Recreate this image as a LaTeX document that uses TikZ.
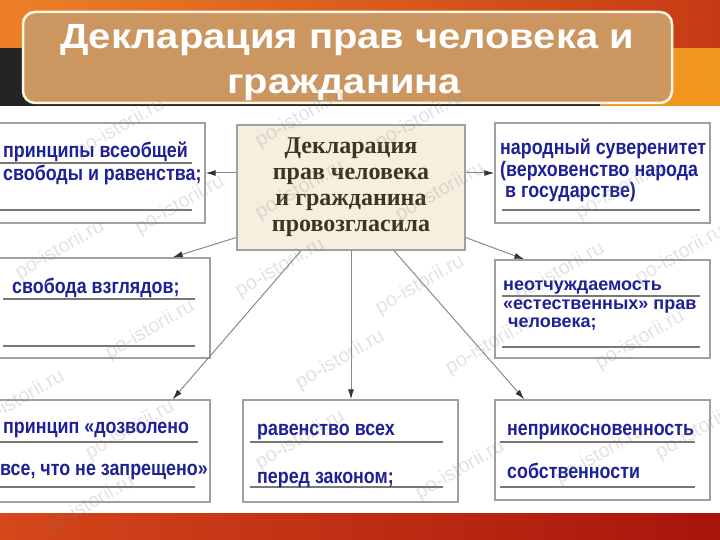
\documentclass[tikz,border=0pt]{standalone}
\usepackage{fontspec}
\setmainfont{Liberation Sans}
\newfontfamily\titlefont[FakeStretch=1.14]{Liberation Sans}
\newfontfamily\boxfont[FakeStretch=0.85]{Liberation Sans}
\newfontfamily\cserif{Liberation Serif}
\usetikzlibrary{arrows.meta,calc}
\definecolor{topL}{RGB}{236,128,40}
\definecolor{topR}{RGB}{198,58,20}
\definecolor{darkband}{RGB}{36,36,36}
\definecolor{orangeR}{RGB}{240,150,32}
\definecolor{botL}{RGB}{212,72,26}
\definecolor{botR}{RGB}{168,20,12}
\definecolor{titlefill}{RGB}{204,150,96}
\definecolor{titleedge}{RGB}{255,246,228}
\definecolor{boxgray}{RGB}{160,160,160}
\definecolor{ulgray}{RGB}{120,120,120}
\definecolor{txtblue}{RGB}{30,32,150}
\definecolor{cfill}{RGB}{246,238,222}
\definecolor{ctext}{RGB}{62,52,32}
\definecolor{arrgray}{RGB}{138,138,138}
\begin{document}
\begin{tikzpicture}[x=1pt,y=-1pt,
  wbox/.style={draw=boxgray,line width=1.4pt,fill=white,inner sep=0pt},
  cbox/.style={draw=boxgray,line width=1.4pt,fill=cfill,inner sep=0pt,
    font=\cserif\bfseries\fontsize{24}{26}\selectfont,text=ctext,align=center},
  btxt/.style={anchor=base west,inner sep=0pt,text=txtblue,
    font=\boxfont\bfseries\fontsize{21}{24}\selectfont},
  stxt/.style={anchor=base west,inner sep=0pt,text=txtblue,
    font=\bfseries\fontsize{18}{20}\selectfont},
  uline/.style={draw=ulgray,line width=1.5pt},
  arr/.style={draw=arrgray,line width=1pt,
    arrows={-Latex[length=10pt,width=6pt,color=black!80]}},
  ttl/.style={anchor=base,inner sep=0pt,text=white,
    font=\titlefont\bfseries\fontsize{35}{36}\selectfont},
  wm/.style={text=gray,opacity=0.22,rotate=30,inner sep=0pt,
    font=\fontsize{20}{20}\selectfont}
]
\useasboundingbox (0,0) rectangle (720,540);
% slide background
\fill[white] (0,0) rectangle (720,540);
\shade[left color=topL,right color=topR] (0,0) rectangle (720,48);
\fill[darkband] (0,48) rectangle (600,106);
\fill[orangeR] (600,48) rectangle (720,106);
\shade[left color=botL,right color=botR] (0,513) rectangle (720,540);
\draw[white,line width=1.2pt] (0,512) -- (685,512);

% title
\node[draw=titleedge,line width=2.5pt,fill=titlefill,rounded corners=12pt,
  minimum width=649pt,minimum height=91pt,inner sep=0pt] (T) at (347.5,57.5) {};
\node[ttl] (t1) at (347,49) {Декларация прав человека и};
\node[ttl] (t2) at (344,94) {гражданина};

% boxes
\node[wbox,minimum width=210pt,minimum height=100pt] (TL) at (100,173) {};
\node[wbox,minimum width=215pt,minimum height=100pt] (TR) at (602.5,173) {};
\node[wbox,minimum width=215pt,minimum height=100pt] (ML) at (102.5,308) {};
\node[wbox,minimum width=215pt,minimum height=98pt] (MR) at (602.5,309) {};
\node[wbox,minimum width=215pt,minimum height=102pt] (BL) at (102.5,451) {};
\node[wbox,minimum width=215pt,minimum height=102pt] (BM) at (350.5,451) {};
\node[wbox,minimum width=215pt,minimum height=100pt] (BR) at (602.5,450) {};
\node[cbox,minimum width=228pt,minimum height=125pt] (C) at (351,187.5)
  {Декларация\\прав человека\\и гражданина\\провозгласила};

% underlines
\draw[uline] (0,163) -- (192,163);
\draw[uline] (0,210) -- (192,210);
\draw[uline] (502,210) -- (700,210);
\draw[uline] (3,299) -- (195,299);
\draw[uline] (3,346) -- (195,346);
\draw[uline] (502,296) -- (700,296);
\draw[uline] (502,347) -- (700,347);
\draw[uline] (0,442) -- (198,442);
\draw[uline] (0,487) -- (195,487);
\draw[uline] (250,442) -- (443,442);
\draw[uline] (250,487) -- (443,487);
\draw[uline] (500,442) -- (695,442);
\draw[uline] (500,487) -- (695,487);

% box texts
\node[btxt] (tl1) at (3,158) {принципы всеобщей};
\node[btxt] (tl2) at (3,181) {свободы и равенства;};
\node[btxt] (tr1) at (500,155) {народный суверенитет};
\node[btxt] (tr2) at (500,177) {(верховенство народа};
\node[btxt] (tr3) at (505,197) {в государстве)};
\node[btxt] (ml1) at (12,293) {свобода взглядов;};
\node[stxt] (mr1) at (503,290) {неотчуждаемость};
\node[stxt] (mr2) at (503,309) {«естественных» прав};
\node[stxt] (mr3) at (508,327) {человека;};
\node[btxt] (bl1) at (3,433) {принцип «дозволено};
\node[btxt] (bl2) at (0,475) {все, что не запрещено»};
\node[btxt] (bm1) at (257,435) {равенство всех};
\node[btxt] (bm2) at (257,483) {перед законом;};
\node[btxt] (br1) at (507,435) {неприкосновенность};
\node[btxt] (br2) at (507,478) {собственности};

% connectors
\draw[arr] (C.west |- TL.east) -- (TL.east);
\draw[arr] (C.east |- TR.west) -- (TR.west);
\draw[arr] ([yshift=-50pt]C.west) -- ([xshift=-38pt]ML.north east);
\draw[arr] ([yshift=-50pt]C.east) -- ([xshift=30pt]MR.north west);
\draw[arr] ([xshift=-50pt]C.south) -- ([xshift=-38pt]BL.north east);
\draw[arr] (C.south) -- (C.south |- BM.north);
\draw[arr] ([xshift=43pt]C.south) -- ([xshift=30pt]BR.north west);

% watermarks
\foreach \x/\y [count=\i] in {120/128,300/118,420/120,180/205,300/190,440/192,
  620/190,60/250,280/268,420/285,560/272,680/255,150/330,340/360,490/345,
  640/340,130/430,300/440,460/470,600/455,20/400,700/430,90/505}
  \node[wm] (w\i) at (\x,\y) {po-istorii.ru};
\end{tikzpicture}
\end{document}
